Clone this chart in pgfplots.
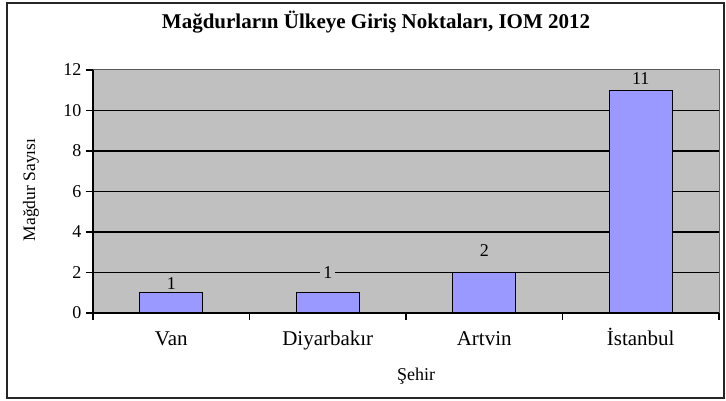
\documentclass[border=0pt]{standalone}
\usepackage{pgfplots}
\pgfplotsset{compat=1.18}
\usepackage{fontspec}
\setmainfont{Liberation Serif}
\definecolor{plotbg}{HTML}{C0C0C0}
\definecolor{barfill}{HTML}{9999FF}
\begin{document}
\begin{tikzpicture}[x=1pt,y=1pt]
\path[use as bounding box] (0,0) rectangle (726,401);
\draw[line width=1.3pt, black!85] (7,3) rectangle (724,398);
\node[font=\fontsize{21}{23}\selectfont\bfseries] at (376,379) {Mağdurların Ülkeye Giriş Noktaları, IOM 2012};
\node[font=\fontsize{17.5}{19}\selectfont, rotate=90] at (31,211) {Mağdur Sayısı};
\node[font=\fontsize{18}{20}\selectfont] at (416,25) {Şehir};
\begin{axis}[at={(93pt,88pt)}, anchor=south west, scale only axis,
  width=626pt, height=243pt,
  xmin=-0.5, xmax=3.5, ymin=0, ymax=12,
  axis x line*=bottom, axis y line*=left,
  axis line style={black, line width=1.2pt, -},
  axis background/.style={fill=plotbg, draw=gray!70!black, line width=1pt},
  tick align=outside, major tick length=7pt,
  tick style={black, line width=1.2pt},
  /pgf/number format/assume math mode=true,
  ytick={0,2,...,12},
  yticklabel style={font=\fontsize{18}{20}\selectfont, xshift=-1pt},
  extra y ticks={2,4,6,8,10}, extra y tick labels={},
  extra y tick style={grid=major, major grid style={black, line width=1.2pt}},
  xtick={-0.5,0.5,1.5,2.5,3.5},
  x tick label as interval,
  xticklabels={Van,Diyarbakır,Artvin,İstanbul},
  xticklabel style={font=\fontsize{21}{23}\selectfont, yshift=-6pt, text height=16pt, text depth=5pt},
  clip=false,
]
\addplot[ybar, bar width=63pt, fill=barfill, draw=black, line width=1.2pt]
  coordinates {(0,1) (1,1) (2,2) (3,11)};
\node[font=\fontsize{18}{20}\selectfont] at (axis cs:0,1.45) {1};
\node[font=\fontsize{18}{20}\selectfont, fill=plotbg, inner sep=3pt] at (axis cs:1,2.0) {1};
\node[font=\fontsize{18}{20}\selectfont] at (axis cs:2,3.1) {2};
\node[font=\fontsize{18}{20}\selectfont] at (axis cs:3,11.6) {11};
\end{axis}
\end{tikzpicture}
\end{document}
